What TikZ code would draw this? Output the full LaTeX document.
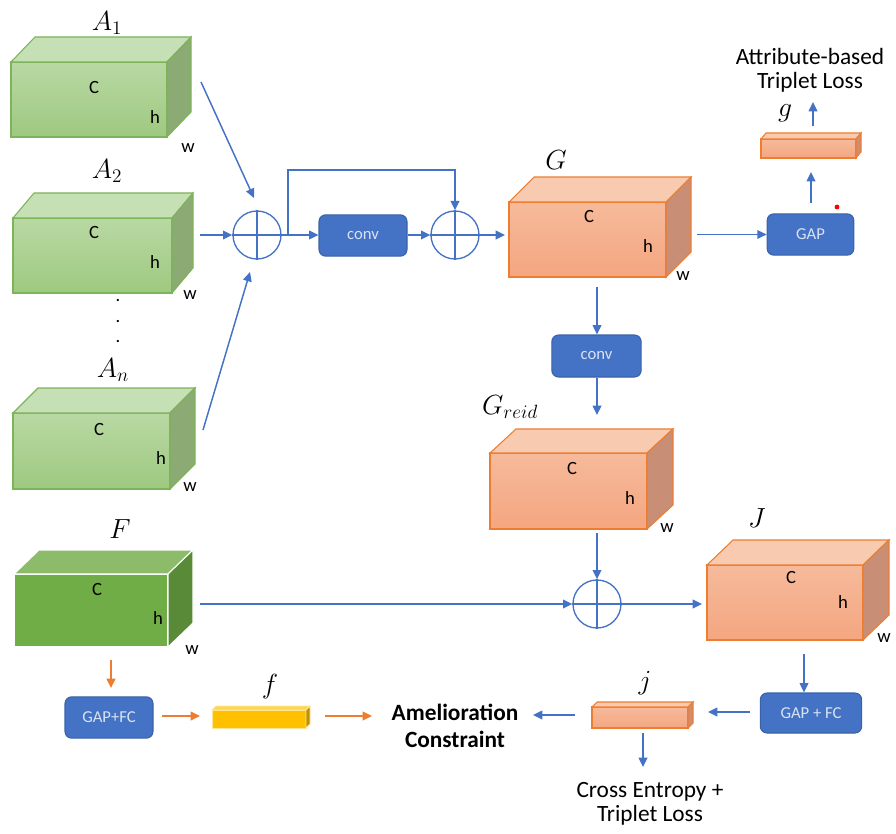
\documentclass[tikz,border=0pt]{standalone}
\usepackage[no-math]{fontspec}
\setmainfont{Carlito}
\usetikzlibrary{arrows.meta}
\definecolor{arrblue}{HTML}{4472C4}
\definecolor{arrorange}{HTML}{ED7D31}
\definecolor{boxblue}{HTML}{4472C4}
\definecolor{boxblueedge}{HTML}{3A62A8}
\definecolor{boxtext}{HTML}{DAE3F3}
\tikzset{
  grnfront/.style={draw={rgb,255:red,125;green,180;blue,90}, line width=0.8pt, top color={rgb,255:red,185;green,216;blue,163}, bottom color={rgb,255:red,158;green,201;blue,128}},
  grntop/.style={draw={rgb,255:red,125;green,180;blue,90}, line width=0.8pt, fill={rgb,255:red,197;green,224;blue,180}},
  grnside/.style={draw={rgb,255:red,125;green,180;blue,90}, line width=0.8pt, fill={rgb,255:red,140;green,170;blue,115}},
  dgrfront/.style={draw=white, line width=0.8pt, fill={rgb,255:red,112;green,173;blue,71}},
  dgrtop/.style={draw=white, line width=0.8pt, fill={rgb,255:red,140;green,188;blue,106}},
  dgrside/.style={draw=white, line width=0.8pt, fill={rgb,255:red,88;green,138;blue,55}},
  orgfront/.style={draw=arrorange, line width=0.8pt, top color={rgb,255:red,246;green,186;blue,155}, bottom color={rgb,255:red,244;green,166;blue,128}},
  orgtop/.style={draw=arrorange, line width=0.8pt, fill={rgb,255:red,248;green,203;blue,176}},
  orgside/.style={draw=arrorange, line width=0.8pt, fill={rgb,255:red,200;green,142;blue,118}},
  ylwfront/.style={draw={rgb,255:red,255;green,230;blue,153}, line width=0.6pt, fill={rgb,255:red,255;green,192;blue,0}},
  ylwtop/.style={draw={rgb,255:red,255;green,230;blue,153}, line width=0.6pt, fill={rgb,255:red,255;green,214;blue,80}},
  ylwside/.style={draw={rgb,255:red,255;green,230;blue,153}, line width=0.6pt, fill={rgb,255:red,192;green,144;blue,0}},
  dimlbl/.style={font=\fontsize{14}{16}\selectfont, text=black, inner sep=0pt},
  mathlbl/.style={font=\fontsize{22}{25}\selectfont, text=black, inner sep=0pt},
  bluebox/.style={draw=boxblueedge, line width=0.8pt, fill=boxblue, rounded corners=5pt, text=boxtext, font=\fontsize{12.5}{14}\selectfont, inner sep=0pt},
  opl/.style={draw=arrblue, line width=1pt, circle, minimum size=36pt, inner sep=0pt},
  barrow/.style={draw=arrblue, line width=1.1pt, -{Triangle[length=7pt,width=6.5pt]}},
  oarrow/.style={draw=arrorange, line width=1.1pt, -{Triangle[length=7pt,width=6.5pt]}},
  bline/.style={draw=arrblue, line width=1.1pt},
  bigtext/.style={font=\fontsize{17.5}{21}\selectfont, text=black, inner sep=0pt, align=center},
}
% #1 name, #2 x1, #3 y1, #4 x2, #5 y2, #6 dx, #7 dy, #8 style family
\newcommand{\cuboid}[8]{%
  \path[#8front] (#2,#3) rectangle (#4,#5);
  \path[#8top] (#2,#3) -- ({#2+#6},{#3-#7}) -- ({#4+#6},{#3-#7}) -- (#4,#3) -- cycle;
  \path[#8side] (#4,#3) -- ({#4+#6},{#3-#7}) -- ({#4+#6},{#5-#7}) -- (#4,#5) -- cycle;
  \coordinate (#1) at ({(#2+#4)/2},{(#3+#5)/2});
}
\newcommand{\oplusmark}[1]{%
  \draw[arrblue, line width=1pt] (#1.north) -- (#1.south) (#1.west) -- (#1.east);
}
\begin{document}
\begin{tikzpicture}[x=0.75pt,y=-0.75pt]
\useasboundingbox (0,0) rectangle (896,834);
% ---------- green attribute boxes ----------
\cuboid{A1}{11}{62}{167}{137}{24}{25}{grn}
\node[dimlbl] (A1c) at (94,88) {C};
\node[dimlbl] (A1h) at (155,117) {h};
\node[dimlbl] (A1w) at (188,148) {w};
\node[mathlbl] (A1l) at (107,23) {$A_1$};

\cuboid{A2}{13}{218}{172}{293}{21}{25}{grn}
\node[dimlbl] (A2c) at (94,233) {C};
\node[dimlbl] (A2h) at (155,262) {h};
\node[dimlbl] (A2w) at (190,295) {w};
\node[mathlbl] (A2l) at (107,171) {$A_2$};

\node[font=\fontsize{14}{16}\selectfont, inner sep=0pt] (dots) at (118,322) {.};
\node[font=\fontsize{14}{16}\selectfont, inner sep=0pt] (dots2) at (118,301) {.};
\node[font=\fontsize{14}{16}\selectfont, inner sep=0pt] (dots3) at (118,342) {.};

\cuboid{An}{13}{413}{170}{489}{25}{25}{grn}
\node[dimlbl] (Anc) at (99,430) {C};
\node[dimlbl] (Anh) at (161,458) {h};
\node[dimlbl] (Anw) at (190,487) {w};
\node[mathlbl] (Anl) at (113,370) {$A_n$};

% ---------- F ----------
\cuboid{Fb}{14}{574}{168}{647}{25}{24}{dgr}
\node[dimlbl] (Fc) at (97,590) {C};
\node[dimlbl] (Fh) at (158,618) {h};
\node[dimlbl] (Fw) at (192,650) {w};
\node[mathlbl] (Fl) at (120,529) {$F$};

% ---------- G ----------
\cuboid{Gb}{509}{202}{666}{277}{25}{25}{org}
\node[dimlbl] (Gc) at (589,217) {C};
\node[dimlbl] (Gh) at (648,246) {h};
\node[dimlbl] (Gw) at (683,276) {w};
\node[mathlbl] (Gl) at (556,160) {$G$};

% ---------- G_reid ----------
\cuboid{Rb}{490}{453}{647}{529}{26}{24}{org}
\node[dimlbl] (Rc) at (572,469) {C};
\node[dimlbl] (Rh) at (630,498) {h};
\node[dimlbl] (Rw) at (667,528) {w};
\node[mathlbl] (Rl) at (510,407) {$G_{reid}$};

% ---------- J ----------
\cuboid{Jb}{707}{565}{863}{640}{26}{25}{org}
\node[dimlbl] (Jc) at (791,578) {C};
\node[dimlbl] (Jh) at (843,602) {h};
\node[dimlbl] (Jw) at (884,638) {w};
\node[mathlbl] (Jl) at (757,518) {$J$};

% ---------- feature bars ----------
\cuboid{gbar}{761}{139}{856}{158}{5}{6}{org}
\node[mathlbl] (gl) at (785,113) {$g$};
\cuboid{jbar}{592}{707}{688}{728}{5}{5}{org}
\node[mathlbl] (jl) at (645,683) {$j$};
\cuboid{fbar}{212}{710}{306}{728}{4}{4}{ylw}
\node[mathlbl] (fl) at (270,687) {$f$};

% ---------- operator boxes ----------
\node[bluebox, minimum width=66pt, minimum height=31pt] (conv1) at (363,235.5) {conv};
\node[bluebox, minimum width=67pt, minimum height=31.5pt] (conv2) at (596.5,356) {conv};
\node[bluebox, minimum width=65pt, minimum height=31pt] (gap) at (810.5,234.5) {GAP};
\node[bluebox, minimum width=66pt, minimum height=31pt] (gapfcL) at (109,717.5) {GAP+FC};
\node[bluebox, minimum width=76pt, minimum height=30pt] (gapfcR) at (811,713) {GAP + FC};

% ---------- sum nodes ----------
\node[opl] (s1) at (257,235) {};
\oplusmark{s1}
\node[opl] (s2) at (455,235) {};
\oplusmark{s2}
\node[opl] (s3) at (597,604) {};
\oplusmark{s3}

% ---------- texts ----------
\node[bigtext] (atl) at (810,70) {Attribute-based\\[-3pt]Triplet Loss};
\node[bigtext, font=\fontsize{17.5}{21}\selectfont\bfseries] (amc) at (455,726) {Amelioration\\[-1pt]Constraint};
\node[bigtext] (cel) at (650,804) {Cross Entropy +\\[-3pt]Triplet Loss};

% ---------- coordinates for free arrow ends ----------
\coordinate (a1o) at (201,82);
\coordinate (a2o) at (200,235);
\coordinate (ano) at (203,430);
\coordinate (split) at (288,235);
\coordinate (skipT) at (288,170);
\coordinate (Gi) at (505,235);
\coordinate (Go) at (697,234.5);
\coordinate (Gd) at (597,287);
\coordinate (Ri) at (597,415);
\coordinate (Rd) at (597,533);
\coordinate (Fo) at (200,604);
\coordinate (Ji) at (702,604);
\coordinate (Jd) at (804,654);
\coordinate (gapU) at (811,203);
\coordinate (gbarB) at (811,172);
\coordinate (gbarT) at (813,126);
\coordinate (atlB) at (813,102);
\coordinate (jbarL) at (575,715);
\coordinate (amcR) at (533,715);
\coordinate (jbarD) at (643,733);
\coordinate (celT) at (643,767);
\coordinate (Fd) at (111,660);
\coordinate (gapfcLT) at (111,688);
\coordinate (gapfcLo) at (162,716);
\coordinate (fbarL) at (200,716);
\coordinate (fbarR) at (325,716);
\coordinate (amcL) at (372,716);
\coordinate (gapfcRo) at (750,712);
\coordinate (jbarR) at (708,712);

% ---------- connectors ----------
\draw[barrow] (a1o) -- (254,198);
\draw[barrow] (a2o) -- (s1.west);
\draw[barrow] (ano) -- (250,272);
\draw[bline] (s1.east) -- (split);
\draw[barrow] (split) -- (split -| conv1.west);
\draw[barrow] (split) -- (skipT) -| (s2.north);
\draw[barrow] (conv1.east |- s2.west) -- (s2.west);
\draw[barrow] (s2.east) -- (Gi);
\draw[barrow] (Go) -- (gap.west);
\draw[barrow] (gapU) -- (gbarB);
\draw[barrow] (gbarT) -- (atlB);
\draw[barrow] (Gd) -- (Gd |- conv2.north);
\draw[barrow] (Gd |- conv2.south) -- (Ri);
\draw[barrow] (Rd) -- (s3.north);
\draw[barrow] (Fo) -- (s3.west);
\draw[barrow] (s3.east) -- (Ji);
\draw[barrow] (Jd) -- (Jd |- gapfcR.north);
\draw[barrow] (gapfcRo) -- (jbarR);
\draw[barrow] (jbarL) -- (amcR);
\draw[barrow] (jbarD) -- (celT);
\draw[oarrow] (Fd) -- (gapfcLT);
\draw[oarrow] (gapfcLo) -- (fbarL);
\draw[oarrow] (fbarR) -- (amcL);
% small red dot
\fill[red] (837,207) circle (1.8pt);
\end{tikzpicture}
\end{document}
